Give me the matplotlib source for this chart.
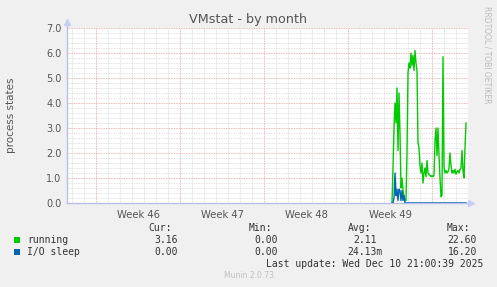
import numpy as np
import pandas as pd
import matplotlib
matplotlib.use("Agg")
import matplotlib.pyplot as plt
import matplotlib.dates as mdates

# ---------------- data ----------------
title = "VMstat - by month"
ylabel = "process states"
series_names = ["running", "I/O sleep"]
series_colors = ["#00CC00", "#0066B3"]

data_start = "2025-12-04 16:00"
data_step = "2h"

running = [0.0, 1.4, 3.0, 4.0, 3.2, 4.6, 2.1, 4.4, 2.8, 0.6, 1.0, 0.5, 0.25, 0.1, 0.1,
           2.0, 5.2, 5.6, 5.4, 6.0, 5.5, 5.9, 5.3, 6.1, 5.6, 5.3, 2.4, 2.2, 1.5,
           1.2, 1.6, 0.8, 1.2, 1.4, 1.05, 1.7, 1.2, 1.15, 1.1, 1.05, 1.1, 1.05,
           1.1, 2.5, 3.0, 1.9, 3.0, 1.9, 1.0, 0.25, 0.3, 5.85, 1.45, 1.2, 1.3,
           1.2, 1.25, 1.4, 2.0, 1.5, 1.2, 1.3, 1.2, 1.35, 1.15, 1.25, 1.3, 1.2,
           1.35, 1.4, 2.1, 1.3, 1.0, 2.2, 3.2]
io_sleep = [0.0, 0.0, 0.2, 1.2, 0.3, 0.55, 0.1, 0.55, 0.5, 0.1, 0.5, 0.1, 0.3, 0.0] + [0.0] * 61

week_labels = ["Week 46", "Week 47", "Week 48", "Week 49"]
week_starts = ["2025-11-10", "2025-11-17", "2025-11-24", "2025-12-01", "2025-12-08"]
x_min = "2025-11-07 14:00"
x_max = "2025-12-11 00:00"
y_max = 7.0

legend_cur = ["3.16", "0.00"]
legend_min = ["0.00", "0.00"]
legend_avg = ["2.11", "24.13m"]
legend_max = ["22.60", "16.20"]
last_update = "Last update: Wed Dec 10 21:00:39 2025"
footer = "Munin 2.0.73"
side_text = "RRDTOOL / TOBI OETIKER"

# ---------------- figure ----------------
W, H = 497, 287
fig = plt.figure(figsize=(W / 100, H / 100), dpi=100, facecolor="#F0F0F0")

def fx(px):
    return px / W

def fy(py):
    return 1 - py / H

L, R, T, B = 67, 468, 28, 203
ax = fig.add_axes([fx(L), fy(B), (R - L) / W, (B - T) / H])
ax.set_facecolor("white")

times = pd.date_range(data_start, periods=len(running), freq=data_step)
xmin = mdates.date2num(pd.Timestamp(x_min))
xmax = mdates.date2num(pd.Timestamp(x_max))
ax.set_xlim(xmin, xmax)
ax.set_ylim(0, y_max)

# grid: minor
minor_color = "#D8D8D8"
major_color = "#E6A0A0"
days = pd.date_range(pd.Timestamp(x_min).ceil("D"), pd.Timestamp(x_max), freq="D")
wk = set(pd.to_datetime(week_starts))
for d in days:
    if d in wk:
        continue
    ax.axvline(mdates.date2num(d), color=minor_color, lw=0.6, ls=(0, (1, 1)), zorder=1)
for v in np.arange(0, y_max + 0.001, 0.2):
    if abs(v - round(v)) < 1e-6:
        continue
    ax.axhline(v, color=minor_color, lw=0.6, ls=(0, (1, 1)), zorder=1)
for d in pd.to_datetime(week_starts):
    ax.axvline(mdates.date2num(d), color=major_color, lw=0.6, ls=(0, (1, 1)), zorder=1.5)
for v in range(1, int(y_max) + 1):
    ax.axhline(v, color=major_color, lw=0.6, ls=(0, (1, 1)), zorder=1.5)

# data
ax.plot(mdates.date2num(times), running, color=series_colors[0], lw=1.0, zorder=3)
ax.plot(mdates.date2num(times), io_sleep, color=series_colors[1], lw=1.0, zorder=4)

# axes style
for s in ax.spines.values():
    s.set_visible(False)
axis_col = "#B8BEEA"
ax.plot([0, 0], [0, 1.03], transform=ax.transAxes, color=axis_col, lw=1.0, clip_on=False, zorder=2)
ax.plot([0, 1.0], [0, 0], transform=ax.transAxes, color=axis_col, lw=1.0, clip_on=False, zorder=2)
ax.plot([0], [1.035], transform=ax.transAxes, marker="^", ms=4, color="#C8CDF4", clip_on=False)
ax.plot([1.008], [0], transform=ax.transAxes, marker=">", ms=4, color="#C8CDF4", clip_on=False)

ax.set_yticks(np.arange(0, y_max + 0.001, 1.0))
ax.set_yticklabels([f"{v:.1f}" for v in np.arange(0, y_max + 0.001, 1.0)])
ax.tick_params(axis="y", length=0, pad=4, labelsize=7, labelcolor="#555555")
ax.set_xticks([])

ws = pd.to_datetime(week_starts)
for i, lab in enumerate(week_labels):
    mid = mdates.date2num(ws[i] + (ws[i + 1] - ws[i]) / 2)
    ax.text(mid, -0.04, lab, transform=ax.get_xaxis_transform(), ha="center", va="top",
            fontsize=7.2, color="#555555")

# title, labels
fig.text(0.5, fy(19), title, ha="center", va="center", fontsize=9.2, color="#555555")
fig.text(fx(11), fy(115), ylabel, ha="center", va="center", rotation=90, fontsize=7.5, color="#555555")
fig.text(fx(487), fy(6), side_text, ha="center", va="top", rotation=270, fontsize=5.5, color="#BBBBBB")

# legend
mono = dict(family="DejaVu Sans Mono", fontsize=7, color="#333333")
fig.text(fx(172), fy(228), "Cur:", ha="right", va="center", **mono)
fig.text(fx(272), fy(228), "Min:", ha="right", va="center", **mono)
fig.text(fx(371), fy(228), "Avg:", ha="right", va="center", **mono)
fig.text(fx(470), fy(228), "Max:", ha="right", va="center", **mono)
rows_y = [240, 252]
for i, name in enumerate(series_names):
    y = rows_y[i]
    fig.patches.append(plt.Rectangle((fx(14), fy(y + 3)), 6 / W, 6 / H, transform=fig.transFigure,
                                     facecolor=series_colors[i], edgecolor="none"))
    fig.text(fx(27), fy(y), name, ha="left", va="center", **mono)
    fig.text(fx(178), fy(y), legend_cur[i], ha="right", va="center", **mono)
    fig.text(fx(278), fy(y), legend_min[i], ha="right", va="center", **mono)
    avg = legend_avg[i]
    fig.text(fx(383 if avg.endswith("m") else 377), fy(y), avg, ha="right", va="center", **mono)
    fig.text(fx(477), fy(y), legend_max[i], ha="right", va="center", **mono)
fig.text(fx(483), fy(264), last_update, ha="right", va="center", **mono)
fig.text(0.5, fy(276), footer, ha="center", va="center", fontsize=5.5, color="#C0C0C0")

fig.savefig("out.png", dpi=100, facecolor=fig.get_facecolor())
